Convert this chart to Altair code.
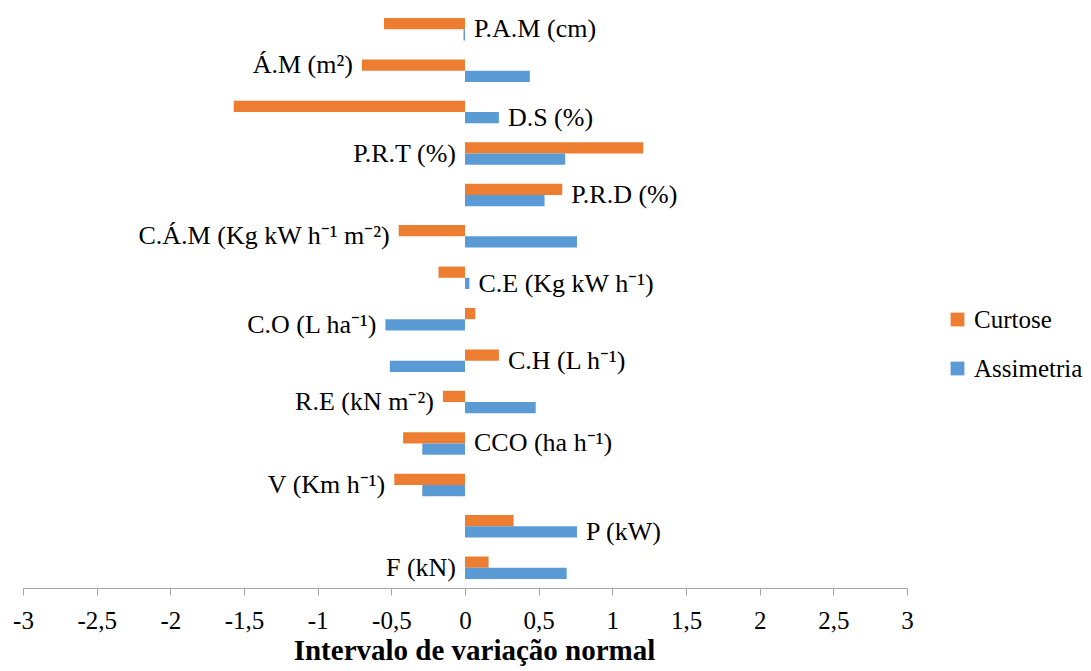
import altair as alt
import pandas as pd

categories = ["P.A.M (cm)", "Á.M (m²)", "D.S (%)", "P.R.T (%)", "P.R.D (%)",
              "C.Á.M (Kg kW h⁻¹ m⁻²)", "C.E (Kg kW h⁻¹)", "C.O (L ha⁻¹)", "C.H (L h⁻¹)",
              "R.E (kN m⁻²)", "CCO (ha h⁻¹)", "V (Km h⁻¹)", "P (kW)", "F (kN)"]
curtose = [-0.55, -0.70, -1.57, 1.21, 0.66, -0.45, -0.18, 0.07, 0.23, -0.15, -0.42, -0.48, 0.33, 0.16]
assimetria = [-0.01, 0.44, 0.23, 0.68, 0.54, 0.76, 0.03, -0.54, -0.51, 0.48, -0.29, -0.29, 0.76, 0.69]
series = ["Curtose", "Assimetria"]
colors = ["#ED7D31", "#5B9BD5"]
ticks = [-3, -2.5, -2, -1.5, -1, -0.5, 0, 0.5, 1, 1.5, 2, 2.5, 3]

# where each category name is written next to its bars
label_anchor = ["zero", "curtose", "assimetria", "zero", "curtose", "curtose", "assimetria",
                "assimetria", "curtose", "curtose", "zero", "curtose", "assimetria", "zero"]
label_align = ["left", "right", "left", "right", "left", "right", "left",
               "right", "left", "right", "left", "right", "left", "right"]
label_level = ["mid", "curtose", "assimetria", "mid", "mid", "mid", "assimetria",
               "assimetria", "mid", "mid", "mid", "mid", "assimetria", "mid"]

bars = pd.DataFrame({
    "cat": categories * 2,
    "serie": [series[0]] * len(categories) + [series[1]] * len(categories),
    "value": curtose + assimetria,
})

anchor_vals = []
for i, a in enumerate(label_anchor):
    if a == "curtose":
        anchor_vals.append(curtose[i])
    elif a == "assimetria":
        anchor_vals.append(assimetria[i])
    else:
        anchor_vals.append(0.0)
labels = pd.DataFrame({
    "cat": categories,
    "ax": anchor_vals,
    "align": label_align,
    "level": label_level,
})

serif = "Times New Roman, Liberation Serif, serif"
TITLE = "Intervalo de variação normal"

xscale = alt.Scale(domain=[-3, 3], nice=False, zero=False)
xaxis = alt.Axis(values=ticks, grid=False, domainColor="#a6a6a6", tickColor="#a6a6a6",
                 tickSize=7, labelFont=serif, labelFontSize=25, labelColor="black",
                 labelPadding=13, labelExpr="replace(toString(datum.value), '.', ',')",
                 title=TITLE, titleFont=serif, titleX=451,
                 titleFontSize=29, titleFontWeight="bold", titleColor="black",
                 titlePadding=3, labelFlush=False, labelOverlap=False)

ycat = alt.Y("cat:N", sort=categories, axis=None,
             scale=alt.Scale(paddingInner=0.457, paddingOuter=0.217))

bar_layer = alt.Chart(bars).mark_bar(strokeWidth=0).encode(
    x=alt.X("value:Q", scale=xscale, axis=xaxis, title=TITLE),
    y=ycat,
    yOffset=alt.YOffset("serie:N", sort=series),
    color=alt.Color("serie:N", sort=series,
                    scale=alt.Scale(domain=series, range=colors),
                    legend=alt.Legend(orient="none", legendX=922, legendY=298, title=None,
                                      symbolType="square", symbolSize=190, symbolStrokeWidth=0,
                                      labelFont=serif, labelFontSize=25, labelColor="black",
                                      rowPadding=23, padding=0, labelOffset=4)),
)

text_layers = []
dys = {"mid": 0, "curtose": -6, "assimetria": 6}
for al in ["left", "right"]:
    for lv in ["mid", "curtose", "assimetria"]:
        text_layers.append(
            alt.Chart(labels).transform_filter(
                (alt.datum.align == al) & (alt.datum.level == lv)
            ).mark_text(align=al, baseline="middle", dx=9 if al == "left" else -9,
                        dy=dys[lv], font=serif, fontSize=26, color="black").encode(
                x=alt.X("ax:Q", scale=xscale, axis=xaxis, title=TITLE),
                y=ycat,
                text="cat:N",
            )
        )

chart = alt.layer(bar_layer, *text_layers).properties(
    width=884, height=579,
    autosize="none",
    padding={"left": 15, "top": 1, "right": 176, "bottom": 78},
).configure_view(stroke=None).configure_scale(offsetBandPaddingInner=0)

chart.save("out.html", embed_options={"renderer": "svg", "actions": False})
